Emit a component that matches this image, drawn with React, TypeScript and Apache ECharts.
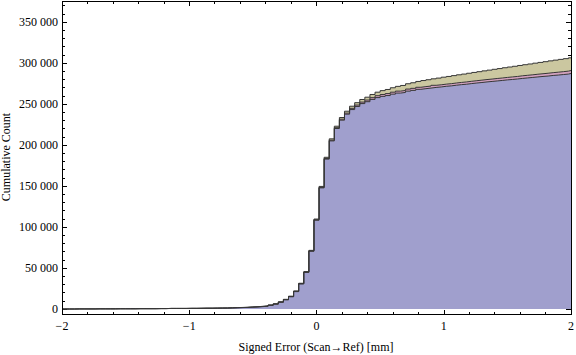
import React, { useEffect, useRef } from "react";
import * as echarts from "echarts";

// Histogram bins (width 0.04, first left edge at -2.02), 101 bins
const binStart = -2.02;
const binWidth = 0.04;

const oliveValues = [
  0, 0, 0, 100, 100, 100, 100, 200, 200, 200,
  200, 300, 300, 300, 300, 400, 400, 400, 400, 500,
  500, 700, 700, 700, 700, 800, 800, 900, 1000, 1000,
  1100, 1200, 1300, 1500, 1700, 1900, 2100, 2500, 2800, 3300,
  3800, 4900, 6400, 8800, 11800, 15600, 22000, 31400, 45600, 71500,
  109700, 149500, 185000, 207500, 222900, 233500, 241200, 247300, 251600, 255500,
  258300, 261600, 264400, 266300, 267700, 269800, 271500, 272600, 274700, 275900,
  277500, 278600, 279600, 280700, 281600, 282700, 283600, 284600, 285600, 286500,
  287500, 288500, 289400, 290400, 291300, 292300, 293200, 294200, 295100, 296000,
  297000, 297900, 298800, 299800, 300700, 301600, 302600, 303500, 304400, 305300,
  306300,
];

const pinkValues = [
  0, 0, 0, 100, 100, 100, 100, 200, 200, 200,
  200, 300, 300, 300, 300, 400, 400, 400, 400, 500,
  500, 700, 700, 700, 700, 800, 800, 900, 1000, 1000,
  1100, 1200, 1200, 1400, 1600, 1800, 2000, 2400, 2700, 3100,
  3600, 4700, 6200, 8500, 11500, 15300, 21600, 31000, 45100, 70900,
  108800, 148300, 183600, 205900, 221100, 231500, 238900, 244700, 248700, 252300,
  254800, 257700, 260100, 261600, 262700, 264400, 265700, 266500, 268200, 269100,
  270400, 271200, 271900, 272800, 273400, 274200, 274800, 275600, 276300, 276900,
  277700, 278400, 279100, 279800, 280400, 281100, 281700, 282400, 283000, 283600,
  284400, 285000, 285600, 286300, 286900, 287500, 288200, 288800, 289400, 290100,
  290800,
];

const blueValues = [
  0, 0, 0, 100, 100, 100, 100, 200, 200, 200,
  200, 300, 300, 300, 300, 400, 400, 400, 400, 500,
  500, 700, 700, 700, 700, 800, 800, 800, 900, 900,
  1000, 1100, 1100, 1300, 1500, 1700, 1900, 2200, 2500, 2900,
  3400, 4500, 5900, 8200, 11200, 14900, 21200, 30500, 44600, 70400,
  108300, 147700, 182800, 205000, 220100, 230300, 237600, 243200, 247000, 250500,
  252800, 255600, 257800, 259300, 260300, 262000, 263300, 264100, 265700, 266600,
  267900, 268700, 269400, 270200, 270800, 271600, 272100, 272900, 273600, 274100,
  274900, 275600, 276200, 276900, 277500, 278100, 278700, 279400, 279900, 280500,
  281200, 281800, 282400, 283000, 283600, 284100, 284800, 285300, 285900, 286500,
  287200,
];

const xTickValues = [-2, -1, 0, 1, 2];
const yTickValues = [0, 50000, 100000, 150000, 200000, 250000, 300000, 350000];

const X_MIN = -2;
const X_MAX = 2;
const Y_MAX = 375600;

const FONT = "'Liberation Serif', 'Times New Roman', serif";

function toSteps(values: number[]): [number, number][] {
  const pts: [number, number][] = [];
  values.forEach((v, i) => {
    let x = Math.round((binStart + i * binWidth) * 1000) / 1000;
    if (x < X_MIN) x = X_MIN;
    pts.push([x, v]);
  });
  pts.push([X_MAX, values[values.length - 1]]);
  return pts;
}

function fmtY(v: number): string {
  if (!yTickValues.includes(v)) return "";
  const s = String(v);
  if (s.length > 3) return s.slice(0, s.length - 3) + " " + s.slice(s.length - 3);
  return s;
}

function fmtX(v: number): string {
  if (!xTickValues.includes(v)) return "";
  return v < 0 ? "\u2212" + Math.abs(v) : String(v);
}

export default function App() {
  const ref = useRef<HTMLDivElement>(null);
  useEffect(() => {
    if (!ref.current) return;
    const chart = echarts.init(ref.current, null, { renderer: "svg" });
    const tickLine = { color: "#000", width: 1 };
    const baseX = {
      type: "value" as const,
      min: X_MIN,
      max: X_MAX,
      axisLine: { show: false, onZero: false },
      splitLine: { show: false },
    };
    const baseY = {
      type: "value" as const,
      min: 0,
      max: Y_MAX,
      axisLine: { show: false, onZero: false },
      splitLine: { show: false },
    };
    const mkSeries = (name: string, values: number[], fill: string) => ({
      name,
      type: "line" as const,
      step: "end" as const,
      data: toSteps(values),
      symbol: "none",
      showSymbol: false,
      clip: false,
      lineStyle: { color: "#363636", width: 1 },
      areaStyle: { color: fill, opacity: 1 },
      emphasis: { disabled: true },
    });
    chart.setOption({
      animation: false,
      backgroundColor: "#ffffff",
      grid: { left: 62, right: 5, top: 1, bottom: 46, outerBoundsMode: "none" },
      xAxis: [
        {
          ...baseX,
          position: "bottom",
          offset: 6,
          interval: 1,
          axisTick: { show: true, inside: true, length: 5, lineStyle: tickLine },
          axisLabel: {
            show: true,
            formatter: fmtX,
            margin: 5,
            color: "#000",
            fontFamily: FONT,
            fontSize: 12,
          },
        },
        {
          ...baseX,
          position: "bottom",
          offset: 6,
          interval: 0.2,
          axisTick: { show: true, inside: true, length: 3, lineStyle: tickLine },
          axisLabel: { show: false },
        },
        {
          ...baseX,
          position: "top",
          offset: 0,
          interval: 1,
          axisTick: { show: true, inside: true, length: 5, lineStyle: tickLine },
          axisLabel: { show: false },
        },
        {
          ...baseX,
          position: "top",
          offset: 0,
          interval: 0.2,
          axisTick: { show: true, inside: true, length: 3, lineStyle: tickLine },
          axisLabel: { show: false },
        },
      ],
      yAxis: [
        {
          ...baseY,
          position: "left",
          offset: 0,
          interval: 50000,
          axisTick: { show: true, inside: true, length: 5, lineStyle: tickLine },
          axisLabel: {
            show: true,
            formatter: fmtY,
            margin: 4,
            color: "#000",
            fontFamily: FONT,
            fontSize: 12,
          },
        },
        {
          ...baseY,
          position: "left",
          offset: 0,
          interval: 10000,
          axisTick: { show: true, inside: true, length: 3, lineStyle: tickLine },
          axisLabel: { show: false },
        },
        {
          ...baseY,
          position: "right",
          offset: 0,
          interval: 50000,
          axisTick: { show: true, inside: true, length: 5, lineStyle: tickLine },
          axisLabel: { show: false },
        },
        {
          ...baseY,
          position: "right",
          offset: 0,
          interval: 10000,
          axisTick: { show: true, inside: true, length: 3, lineStyle: tickLine },
          axisLabel: { show: false },
        },
      ],
      series: [
        mkSeries("Set C", oliveValues, "#cbc7a0"),
        mkSeries("Set B", pinkValues, "#d3a1bf"),
        mkSeries("Set A", blueValues, "#a09fcd"),
      ],
      graphic: [
        {
          type: "rect",
          z: 100,
          shape: { x: 62.5, y: 1.5, width: 509, height: 313 },
          style: { fill: "none", stroke: "#000", lineWidth: 1 },
          silent: true,
        },
        {
          type: "text",
          x: 316,
          y: 347,
          style: {
            text: "Signed Error (Scan\u2192Ref) [mm]",
            fill: "#000",
            font: `12px ${FONT}`,
            align: "center",
            verticalAlign: "middle",
          },
          silent: true,
        },
        {
          type: "text",
          x: 6,
          y: 157,
          rotation: Math.PI / 2,
          style: {
            text: "Cumulative Count",
            fill: "#000",
            font: `12px ${FONT}`,
            align: "center",
            verticalAlign: "middle",
          },
          silent: true,
        },
      ],
    });
    return () => chart.dispose();
  }, []);
  return (
    <div
      ref={ref}
      style={{ position: "absolute", left: 0, top: 0, width: 576, height: 355, background: "#fff" }}
    />
  );
}
